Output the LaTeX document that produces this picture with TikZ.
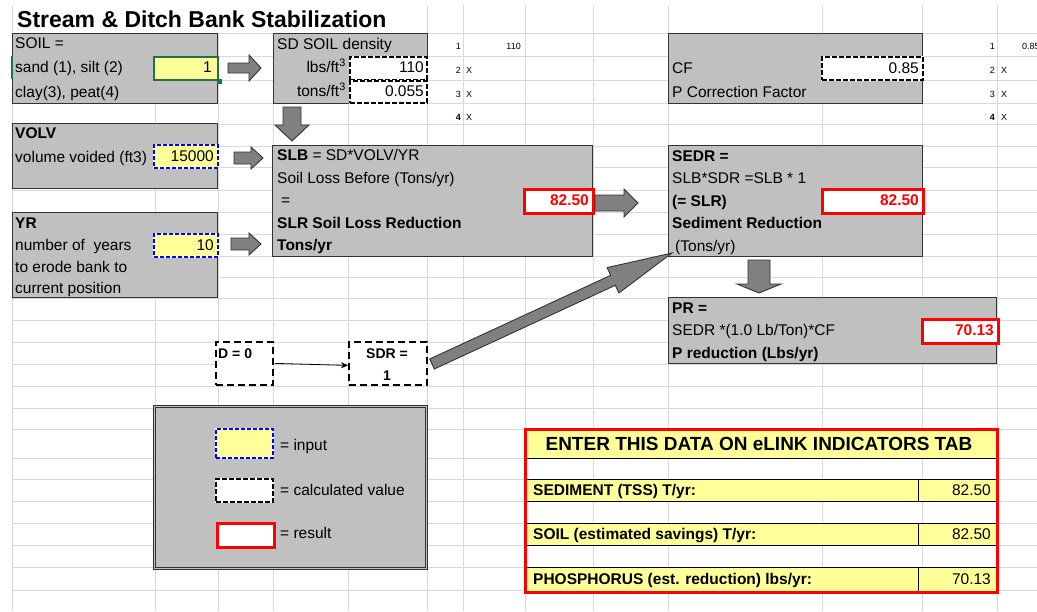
\documentclass[tikz,border=0pt]{standalone}
\usepackage{fontspec}
\setmainfont{Liberation Sans}
\usetikzlibrary{arrows.meta,calc}
\definecolor{cellgray}{HTML}{C0C0C0}
\definecolor{inyellow}{HTML}{FFFF99}
\definecolor{gridc}{HTML}{D9D9D9}
\definecolor{arrowgray}{HTML}{808080}
\definecolor{boxline}{HTML}{333333}
\definecolor{xlgreen}{HTML}{217346}
\definecolor{resred}{HTML}{FF0000}
\newcommand{\fsz}[1]{\fontsize{#1}{#1}\selectfont}
\newcommand{\blkH}[7]{% name tail tip headstart cy bodyhalf headhalf
  \draw[blockarrow] (#2,#5-#6) -- (#4,#5-#6) -- (#4,#5-#7) -- (#3,#5) -- (#4,#5+#7) -- (#4,#5+#6) -- (#2,#5+#6) -- cycle;}
\newcommand{\blkV}[7]{% name top tip headstart cx bodyhalf headhalf
  \draw[blockarrow] (#5-#6,#2) -- (#5-#6,#4) -- (#5-#7,#4) -- (#5,#3) -- (#5+#7,#4) -- (#5+#6,#4) -- (#5+#6,#2) -- cycle;}
\begin{document}
\begin{tikzpicture}[x=1pt,y=-1pt,
  grid/.style={draw=gridc, line width=0.9pt},
  graybox/.style={rectangle, anchor=north west, inner sep=0pt, fill=cellgray, draw=boxline, line width=1.2pt},
  blockarrow/.style={fill=arrowgray, draw=boxline, line width=0.9pt, line join=miter},
  cellbase/.style={rectangle, anchor=north west, inner sep=0pt},
  incell/.style={cellbase, fill=inyellow, draw=white, line width=1.6pt, postaction={draw=blue, dash pattern=on 4pt off 2pt, line width=1.6pt}},
  calccell/.style={cellbase, fill=white, draw=white, line width=1.6pt, postaction={draw=black, dash pattern=on 5pt off 2pt, line width=1.6pt}},
  rescell/.style={cellbase, fill=white, draw=resred, line width=2.6pt},
  dbox/.style={rectangle, anchor=north west, inner sep=0pt, fill=white, draw=black, line width=1.8pt, dash pattern=on 7pt off 4pt},
  txt/.style={anchor=base west, inner sep=0pt, font=\fsz{15.5}},
  bt/.style={anchor=base west, inner sep=0pt, font=\bfseries\fsz{15.5}},
  rt/.style={anchor=base east, inner sep=0pt, font=\fsz{15.5}},
  redval/.style={anchor=base east, inner sep=0pt, font=\bfseries\fsz{15.5}, text=resred},
  tinyr/.style={anchor=base east, inner sep=0pt, font=\fsz{9}},
  tinyl/.style={anchor=base west, inner sep=0pt, font=\fsz{9}},
  yrow/.style={fill=inyellow, draw=black, line width=0.8pt}
]
\clip (0,0) rectangle (1037,611);
\fill[white] (0,0) rectangle (1037,611);
% ---- spreadsheet grid
\foreach \x in {12,427,463,525,593,668,822,922,997} \draw[grid] (\x,5) -- (\x,611);
\foreach \x in {155,218,273,348} \draw[grid] (\x,33) -- (\x,611);
\foreach \y in {33,56,80,103,124,146,167,190,212,234,256,277,298,320,342,364,386,408,429,458,479,501,523,545,567,590} \draw[grid] (12,\y) -- (1037,\y);

% ---- title
\node[anchor=base west, inner sep=0pt, font=\bfseries\fsz{23}] (title) at (17,27) {Stream \& Ditch Bank Stabilization};

% ---- SOIL
\node[graybox, minimum width=205, minimum height=70] (soil) at (12,33) {};
\node[txt] (soilt1) at (15,48) {SOIL =};
\node[txt] (soilt2) at (15,72) {sand (1), silt (2)};
\node[txt] (soilt3) at (15,97) {clay(3), peat(4)};
\node[cellbase, fill=inyellow, draw=xlgreen, line width=2pt, minimum width=64, minimum height=23] (soilin) at (153,56) {};
\fill[xlgreen] ($(soilin.south east)+(-2.5,-2.5)$) rectangle +(5,5);
\draw[xlgreen, line width=2pt] (12,56) -- (12,79);
\node[rt] (soilv) at (212,72) {1};

% ---- SD density
\node[graybox, minimum width=154, minimum height=70] (sd) at (273,33) {};
\node[txt] (sdt1) at (277,49) {SD SOIL density};
\node[rt] (sdt2) at (346,72) {lbs/ft\textsuperscript{3}};
\node[rt] (sdt3) at (346,96) {tons/ft\textsuperscript{3}};
\node[calccell, minimum width=77, minimum height=23] (sd1) at (349,56) {};
\node[calccell, minimum width=77, minimum height=22] (sd2) at (349,80) {};
\node[rt] (sd1v) at (424,72) {110};
\node[rt] (sd2v) at (424,96) {0.055};

% ---- small lookup numbers
\node[tinyr] (n1) at (461,49) {1};
\node[tinyr] (n110) at (521,49) {110};
\node[tinyr] (n2) at (461,73) {2};
\node[tinyl] (x2) at (466,73) {X};
\node[tinyr] (n3) at (461,97) {3};
\node[tinyl] (x3) at (466,97) {X};
\node[tinyr] (n4) at (461,120) {\bfseries 4};
\node[tinyl] (x4) at (466,120) {X};
\node[tinyr] (m1) at (995,49) {1};
\node[tinyl] (m085) at (1022,49) {0.85};
\node[tinyr] (m2) at (995,73) {2};
\node[tinyl] (y2) at (1001,73) {X};
\node[tinyr] (m3) at (995,97) {3};
\node[tinyl] (y3) at (1001,97) {X};
\node[tinyr] (m4) at (995,120) {\bfseries 4};
\node[tinyl] (y4) at (1001,120) {X};

% ---- CF
\node[graybox, minimum width=254, minimum height=70] (cf) at (668,33) {};
\node[calccell, minimum width=101, minimum height=23] (cfv) at (821,56) {};
\node[rt] (cfvt) at (919,73) {0.85};
\node[txt] (cft1) at (672,73) {CF};
\node[txt] (cft2) at (672,97) {P Correction Factor};

% ---- VOLV
\node[graybox, minimum width=205, minimum height=65] (volv) at (12,123) {};
\node[bt] (volvt1) at (15,138) {VOLV};
\node[txt] (volvt2) at (15,162) {volume voided (ft3)};
\node[incell, minimum width=64, minimum height=23] (volvin) at (153,144) {};
\node[rt] (volvv) at (214,161) {15000};

% ---- YR
\node[graybox, minimum width=205, minimum height=85] (yr) at (12,212) {};
\node[bt] (yrt1) at (15,228) {YR};
\node[txt] (yrt2) at (15,250) {number of\ \ years};
\node[txt] (yrt3) at (15,272) {to erode bank to};
\node[txt] (yrt4) at (15,293) {current position};
\node[incell, minimum width=64, minimum height=23] (yrin) at (153,233) {};
\node[rt] (yrv) at (214,250) {10};

% ---- SLB
\node[graybox, minimum width=320, minimum height=111] (slb) at (272,145) {};
\node[txt] (slbt1) at (277,160) {\textbf{SLB} = SD*VOLV/YR};
\node[txt] (slbt2) at (277,183) {Soil Loss Before (Tons/yr)};
\node[txt] (slbt3) at (281,205) {=};
\node[bt] (slbt4) at (277,228) {SLR Soil Loss Reduction};
\node[bt] (slbt5) at (277,250) {Tons/yr};
\node[rescell, minimum width=69, minimum height=24] (slbres) at (523,188) {};
\node[redval] (slbv) at (589,205) {82.50};

% ---- SEDR
\node[graybox, minimum width=254, minimum height=111] (sedr) at (668,145) {};
\node[bt] (sedrt1) at (672,161) {SEDR =};
\node[txt] (sedrt2) at (672,183) {SLB*SDR =SLB * 1};
\node[bt] (sedrt3) at (672,206) {(= SLR)};
\node[bt] (sedrt4) at (672,228) {Sediment Reduction};
\node[txt] (sedrt5) at (675,251) {(Tons/yr)};
\node[rescell, minimum width=101, minimum height=24] (sedrres) at (821,188) {};
\node[redval] (sedrv) at (919,205) {82.50};

% ---- PR
\node[graybox, minimum width=328, minimum height=66] (pr) at (668,297) {};
\node[bt] (prt1) at (672,313) {PR =};
\node[txt] (prt2) at (672,335) {SEDR *(1.0 Lb/Ton)*CF};
\node[bt] (prt3) at (672,358) {P reduction (Lbs/yr)};
\node[rescell, minimum width=76, minimum height=24] (prres) at (921,318) {};
\node[redval] (prv) at (994,335) {70.13};

% ---- D and SDR
\node[dbox, minimum width=57, minimum height=43] (d0) at (215,341) {};
\node[anchor=base west, inner sep=0pt, font=\bfseries\fsz{14}] (d0t) at (218,358) {D = 0};
\node[dbox, minimum width=78, minimum height=43] (sdr) at (348,341) {};
\node[anchor=base, inner sep=0pt, font=\bfseries\fsz{14}] (sdrt1) at (387,358) {SDR =};
\node[anchor=base, inner sep=0pt, font=\bfseries\fsz{14}] (sdrt2) at (387,380) {1};
\draw[line width=0.8pt, -{Stealth[length=7pt,width=6pt]}] ($(d0.east)+(1,0)$) -- ($(sdr.west)+(0,2)$);

% ---- block arrows
\blkH{a1}{228}{261}{249}{68}{5}{13}
\blkH{a2}{234}{263}{251}{158}{6}{11}
\blkH{a3}{231}{261}{249}{244}{6}{11}
\blkH{a4}{595}{638}{624}{203}{8}{14}
\blkV{a5}{107}{141}{125}{292}{9}{17}
\blkV{a6}{260}{293}{284}{759}{11}{22}
\draw[blockarrow] (429.7,359.0) -- (610.7,275.3) -- (607.1,267.6) -- (672,253) -- (618.9,293.0) -- (615.3,285.3) -- (434.3,369.0) -- cycle;

% ---- legend
\node[rectangle, anchor=north west, inner sep=0pt, fill=cellgray, draw=boxline, double=cellgray, double distance=1.6pt, line width=1pt, minimum width=272, minimum height=162] (legend) at (154,406) {};
\node[incell, minimum width=57, minimum height=29] (legin) at (215,428) {};
\node[calccell, minimum width=57, minimum height=23] (legcalc) at (215,478) {};
\node[rescell, minimum width=57, minimum height=24] (legres) at (216,522) {};
\node[txt] (legt1) at (280,450) {= input};
\node[txt] (legt2) at (280,495) {= calculated value};
\node[txt] (legt3) at (280,538) {= result};

% ---- eLINK table
\fill[inyellow] (524,428) rectangle (996,458);
\draw[black, line width=0.8pt] (524,458) -- (996,458);
\filldraw[yrow] (524,479) rectangle (996,501);
\filldraw[yrow] (524,523) rectangle (996,545);
\filldraw[yrow] (524,567) rectangle (996,591);
\foreach \ya/\yb in {479/501,523/545,567/591} \draw[black, line width=0.8pt] (918,\ya) -- (918,\yb);
\node[rectangle, anchor=north west, inner sep=0pt, draw=resred, line width=3pt, minimum width=472, minimum height=163] (elink) at (524,428) {};
\node[anchor=base, inner sep=0pt, font=\bfseries\fsz{19}] (elt) at (759,450) {ENTER THIS DATA ON eLINK INDICATORS TAB};
\node[bt] (el1) at (533,495) {SEDIMENT (TSS) T/yr:};
\node[bt] (el2) at (533,539) {SOIL (estimated savings) T/yr:};
\node[bt] (el3) at (533,584) {PHOSPHORUS (est. reduction) lbs/yr:};
\node[rt] (el1v) at (991,495) {82.50};
\node[rt] (el2v) at (991,539) {82.50};
\node[rt] (el3v) at (991,584) {70.13};
\end{tikzpicture}
\end{document}
